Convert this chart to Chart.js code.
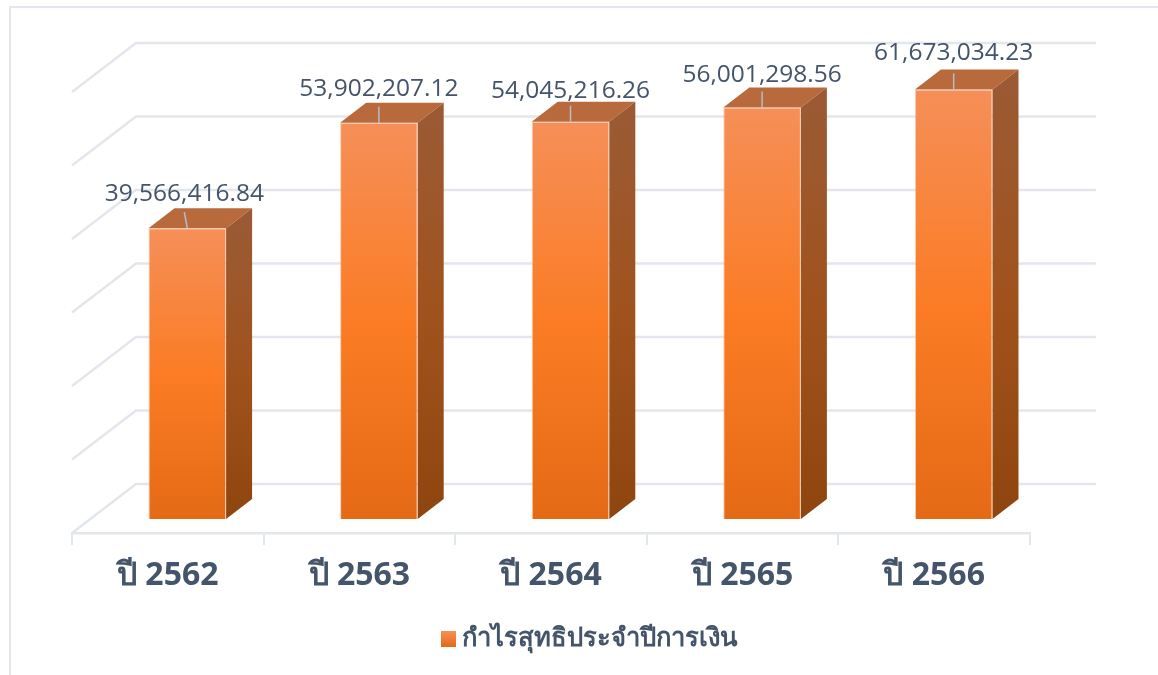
<!DOCTYPE html>
<html lang="th">
<head>
  <meta charset="UTF-8" />
  <title>กำไรสุทธิประจำปีการเงิน</title>
  <script src="https://cdn.jsdelivr.net/npm/chart.js"></script>
  <style>
    * { margin: 0; padding: 0; box-sizing: border-box; }
    body { background: #fff; width: 1158px; height: 675px; overflow: hidden; }
    .frame {
      position: absolute; left: 9px; top: 6px; width: 1149px; height: 669px;
      border-left: 2px solid #e3e6ec; border-top: 2px solid #e3e6ec;
    }
    #chart { position: absolute; left: 0; top: 0; }
  </style>
</head>
<body>
<div class="frame"></div>
<canvas id="chart" width="1158" height="675"></canvas>

<script>
const categories = ["ปี 2562", "ปี 2563", "ปี 2564", "ปี 2565", "ปี 2566"];
const seriesName = "กำไรสุทธิประจำปีการเงิน";
// labels as printed on the picture
const valueLabels = ["39,566,416.84", "53,902,207.12", "54,045,216.26", "56,001,298.56", "61,673,034.23"];
// bar heights as drawn; the last bar is drawn shorter than its printed label says
const profit = [39566416.84, 53902207.12, 54045216.26, 56001298.56, 58450000];
const yTicks = [0, 10000000, 20000000, 30000000, 40000000, 50000000, 60000000];

const FONT = "'Open Sans', 'Noto Sans', sans-serif";
const TEXT = "#44546a";
const GRID = "#e3e6ec";
const WALL = { dx: 64, dy: -49 };   // floor depth of the 3d box
const BAR_SHIFT = { dx: 19.5, dy: -14 };
const BAR_DEPTH = { dx: 26, dy: -20 };
const labelGap = [34, 34, 31, 32, 36];
const labelDx = [-3, 0, 0, 0, 0];

function frontGradient(ctx) {
  const chart = ctx.chart;
  if (!chart.chartArea || ctx.raw === undefined) return "#fb7b24";
  const g = chart.ctx.createLinearGradient(0, chart.scales.y.getPixelForValue(ctx.raw), 0, chart.scales.y.getPixelForValue(0));
  g.addColorStop(0, "#f58f58");
  g.addColorStop(0.5, "#fb7c25");
  g.addColorStop(1, "#e56a15");
  return g;
}

const walls = {
  id: "walls",
  beforeDatasetsDraw(chart) {
    const { ctx, chartArea, scales } = chart;
    ctx.save();
    ctx.strokeStyle = GRID;
    ctx.lineWidth = 2.5;
    yTicks.forEach(v => {
      const py = scales.y.getPixelForValue(v);
      ctx.beginPath();
      ctx.moveTo(chartArea.left, py);
      ctx.lineTo(chartArea.left + WALL.dx, py + WALL.dy);
      ctx.lineTo(chartArea.right + 66, py + WALL.dy);
      ctx.stroke();
    });
    ctx.restore();
  }
};

const box3d = {
  id: "box3d",
  beforeDatasetsDraw(chart) {
    const { ctx } = chart;
    ctx.save();
    ctx.translate(BAR_SHIFT.dx, BAR_SHIFT.dy);
    chart.getDatasetMeta(0).data.forEach(bar => {
      const left = bar.x - bar.width / 2, right = bar.x + bar.width / 2;
      // top face
      ctx.fillStyle = "#b96a3d";
      ctx.beginPath();
      ctx.moveTo(left, bar.y);
      ctx.lineTo(left + BAR_DEPTH.dx, bar.y + BAR_DEPTH.dy);
      ctx.lineTo(right + BAR_DEPTH.dx, bar.y + BAR_DEPTH.dy);
      ctx.lineTo(right, bar.y);
      ctx.closePath();
      ctx.fill();
      // side face
      const g = ctx.createLinearGradient(0, bar.y, 0, bar.base);
      g.addColorStop(0, "#9b5a33");
      g.addColorStop(0.5, "#a0521c");
      g.addColorStop(1, "#8f450f");
      ctx.fillStyle = g;
      ctx.beginPath();
      ctx.moveTo(right, bar.y);
      ctx.lineTo(right + BAR_DEPTH.dx, bar.y + BAR_DEPTH.dy);
      ctx.lineTo(right + BAR_DEPTH.dx, bar.base + BAR_DEPTH.dy);
      ctx.lineTo(right, bar.base);
      ctx.closePath();
      ctx.fill();
    });
    // bars themselves sit inside the box, off the front plane
    ctx.restore();
    ctx.save();
    ctx.translate(BAR_SHIFT.dx, BAR_SHIFT.dy);
  },
  afterDatasetsDraw(chart) {
    chart.ctx.restore();
  }
};

const valueText = {
  id: "valueText",
  afterDatasetsDraw(chart) {
    const { ctx } = chart;
    ctx.save();
    ctx.font = "24.5px " + FONT;
    ctx.textAlign = "center";
    ctx.textBaseline = "middle";
    chart.getDatasetMeta(0).data.forEach((bar, i) => {
      const x = bar.x + BAR_SHIFT.dx, top = bar.y + BAR_SHIFT.dy;
      const lx = x + labelDx[i];
      ctx.strokeStyle = "#b4bcc8";
      ctx.lineWidth = 1.5;
      ctx.beginPath();
      ctx.moveTo(x, top);
      ctx.lineTo(lx, top - 16);
      ctx.stroke();
      ctx.fillStyle = TEXT;
      ctx.fillText(valueLabels[i], lx, top - labelGap[i]);
    });
    ctx.restore();
  }
};

const legendBox = {
  id: "legendBox",
  afterDraw(chart) {
    const { ctx } = chart;
    ctx.save();
    const g = ctx.createLinearGradient(0, 631, 0, 647);
    g.addColorStop(0, "#f58f58");
    g.addColorStop(1, "#e56a15");
    ctx.fillStyle = g;
    ctx.fillRect(441, 631, 15, 16);
    ctx.fillStyle = TEXT;
    ctx.font = "bold 25.6px " + FONT;
    ctx.textBaseline = "middle";
    ctx.fillText(seriesName, 462, 639);
    ctx.restore();
  }
};

new Chart(document.getElementById("chart"), {
  type: "bar",
  data: {
    labels: categories,
    datasets: [{
      label: seriesName,
      data: profit,
      backgroundColor: frontGradient,
      borderColor: "rgba(250,170,120,0.6)",
      borderWidth: 1,
      barPercentage: 0.405,
      categoryPercentage: 1
    }]
  },
  options: {
    responsive: false,
    animation: false,
    layout: { padding: { left: 72, right: 128, top: 92, bottom: 0 } },
    plugins: { legend: { display: false }, tooltip: { enabled: false } },
    scales: {
      x: {
        border: { color: GRID, width: 2.5 },
        grid: { drawOnChartArea: false, color: GRID, lineWidth: 2, tickLength: 12 },
        ticks: { color: TEXT, font: { family: FONT, size: 32, weight: "bold" }, padding: 12, maxRotation: 0 },
        afterFit(scale) { scale.height = 142; }
      },
      y: {
        display: false,
        min: 0,
        max: 60000000,
        afterBuildTicks(scale) { scale.ticks = yTicks.map(v => ({ value: v })); }
      }
    }
  },
  plugins: [walls, box3d, valueText, legendBox]
});
</script>
</body>
</html>
